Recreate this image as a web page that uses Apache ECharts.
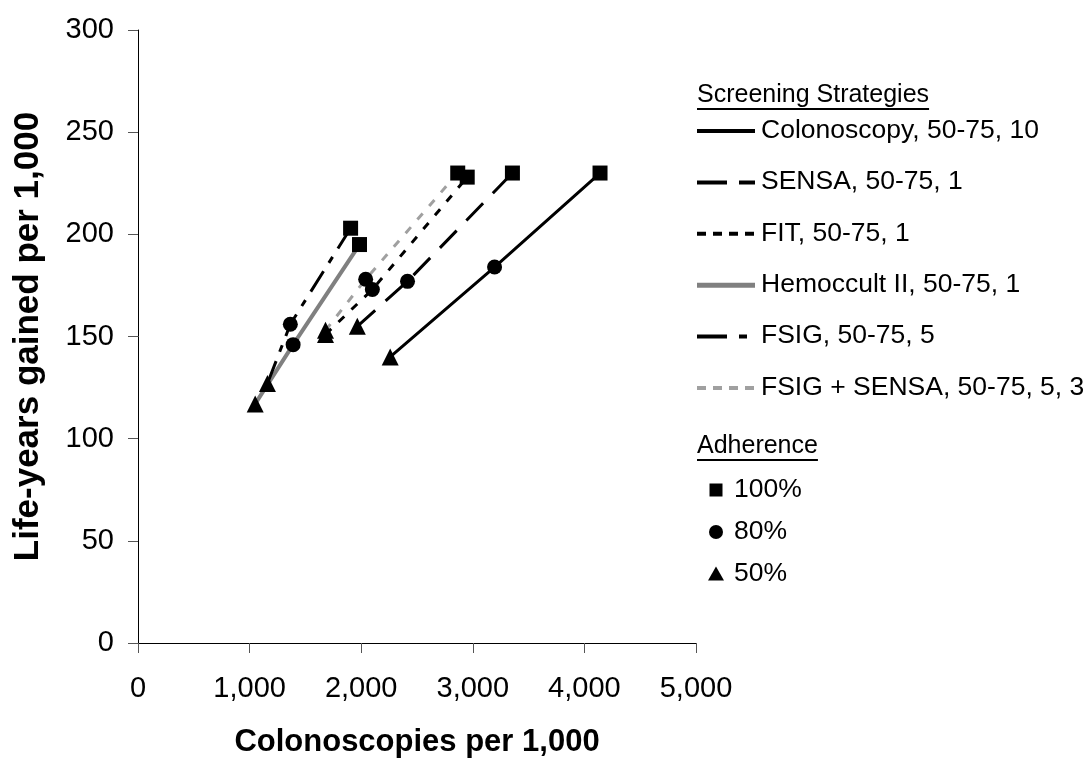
<!DOCTYPE html>
<html>
<head>
<meta charset="utf-8">
<script src="https://cdn.jsdelivr.net/npm/echarts@6/dist/echarts.min.js"></script>
<style>
  html, body { margin: 0; padding: 0; background: #fff; }
  #chart { width: 1086px; height: 759px; }
</style>
</head>
<body>
<div id="chart"></div>
<script>
// Screening strategies and adherence levels (points ordered 50%, 80%, 100%)
const strategies = [
  'Colonoscopy, 50-75, 10',
  'SENSA, 50-75, 1',
  'FIT, 50-75, 1',
  'Hemoccult II, 50-75, 1',
  'FSIG, 50-75, 5',
  'FSIG + SENSA, 50-75, 5, 3'
];
const adherenceLevels = ['50%', '80%', '100%'];

// Colonoscopies per 1,000 for each strategy at 50%, 80%, 100% adherence
const colonoscopyX   = [2260, 3195, 4140];
const sensaX         = [1965, 2415, 3355];
const fitX           = [1680, 2100, 2950];
const hemoccultX     = [1050, 1390, 1985];
const fsigX          = [1160, 1365, 1905];
const fsigSensaX     = [1680, 2040, 2865];

// Life-years gained per 1,000 at 50%, 80%, 100% adherence
const colonoscopyY   = [140, 184, 230];
const sensaY         = [155, 177, 230];
const fitY           = [151, 173, 228];
const hemoccultY     = [117, 146, 195];
const fsigY          = [127, 156, 203];
const fsigSensaY     = [153, 178, 230];

const xTicks = [0, 1000, 2000, 3000, 4000, 5000];
const yTicks = [0, 50, 100, 150, 200, 250, 300];

const FONT = "'Liberation Sans', Arial, sans-serif";

// Line styles per strategy (plot dashes, and the shorter legend sample dashes)
const styles = [
  { color: '#000000', width: 3, dash: 'solid',           legendDash: null },
  { color: '#000000', width: 3, dash: [24, 14],          legendDash: [30, 12] },
  { color: '#000000', width: 3, dash: [8, 10],           legendDash: [9, 7] },
  { color: '#808080', width: 4, dash: 'solid',           legendDash: null },
  { color: '#000000', width: 3, dash: [24, 10, 7, 10],   legendDash: [30, 12, 8, 100] },
  { color: '#a0a0a0', width: 3, dash: [8, 10],           legendDash: [9, 7] }
];
const adherenceSymbols = ['triangle', 'circle', 'rect'];

const xs = [colonoscopyX, sensaX, fitX, hemoccultX, fsigX, fsigSensaX];
const ys = [colonoscopyY, sensaY, fitY, hemoccultY, fsigY, fsigSensaY];

const series = strategies.map((name, i) => ({
  name: name,
  type: 'line',
  data: xs[i].map((x, j) => ({
    value: [x, ys[i][j]],
    symbol: adherenceSymbols[j],
    symbolSize: adherenceSymbols[j] === 'triangle' ? 17 : 15
  })),
  showAllSymbol: true,
  lineStyle: { color: styles[i].color, width: styles[i].width, type: styles[i].dash, cap: 'butt' },
  itemStyle: { color: '#000000', borderWidth: 0 },
  emphasis: { disabled: true },
  animation: false,
  z: 2
}));

// Legend drawn as graphic elements
const measure = (() => {
  const c = document.createElement('canvas').getContext('2d');
  return (text, size) => { c.font = size + 'px ' + FONT; return c.measureText(text).width; };
})();

const LEG_X = 697, LEG_TEXT_X = 761, ENTRY_FONT = 26.5, HEAD_FONT = 25;
const graphics = [];
function underlinedTitle(text, x, y) {
  const w = measure(text, HEAD_FONT);
  graphics.push({ type: 'text', left: x, top: y - 14, style: { text: text, font: HEAD_FONT + 'px ' + FONT, fill: '#000' } });
  graphics.push({ type: 'line', shape: { x1: x, y1: y + 12, x2: x + w, y2: y + 12 }, style: { stroke: '#000', lineWidth: 2 } });
}
underlinedTitle('Screening Strategies', LEG_X, 97);
strategies.forEach((name, i) => {
  const y = 131 + i * 51.4;
  graphics.push({
    type: 'line',
    shape: { x1: LEG_X, y1: y, x2: 755, y2: y },
    style: { stroke: styles[i].color, lineWidth: styles[i].width + 1, lineDash: styles[i].legendDash }
  });
  graphics.push({ type: 'text', left: LEG_TEXT_X, top: y - 14, style: { text: name, font: ENTRY_FONT + 'px ' + FONT, fill: '#000' } });
});
underlinedTitle('Adherence', LEG_X, 448);
const adhRows = [adherenceLevels[2], adherenceLevels[1], adherenceLevels[0]];
adhRows.forEach((label, k) => {
  const y = 490 + k * 42;
  const cx = 716;
  if (k === 0) graphics.push({ type: 'rect', shape: { x: cx - 6.5, y: y - 6.5, width: 13, height: 13 }, style: { fill: '#000' } });
  if (k === 1) graphics.push({ type: 'circle', shape: { cx: cx, cy: y, r: 7 }, style: { fill: '#000' } });
  if (k === 2) graphics.push({ type: 'polygon', shape: { points: [[cx, y - 7.5], [cx + 8, y + 6.5], [cx - 8, y + 6.5]] }, style: { fill: '#000' } });
  graphics.push({ type: 'text', left: 734, top: y - 14, style: { text: label, font: ENTRY_FONT + 'px ' + FONT, fill: '#000' } });
});

const chart = echarts.init(document.getElementById('chart'), null, { renderer: 'canvas' });
chart.setOption({
  backgroundColor: '#ffffff',
  animation: false,
  textStyle: { fontFamily: FONT },
  grid: { left: 138, right: 390, top: 30, bottom: 116, containLabel: false, outerBoundsMode: 'none' },
  xAxis: {
    type: 'value',
    min: xTicks[0], max: xTicks[xTicks.length - 1], interval: 1000,
    name: 'Colonoscopies per 1,000',
    nameLocation: 'middle', nameGap: 84,
    nameTextStyle: { fontSize: 31, fontWeight: 'bold', color: '#000', fontFamily: FONT },
    axisLine: { show: true, onZero: false, lineStyle: { color: '#000', width: 1 } },
    axisTick: { show: true, inside: false, length: 10, lineStyle: { color: '#555' } },
    axisLabel: { fontSize: 29, color: '#000', margin: 31, fontFamily: FONT,
      formatter: v => v.toLocaleString('en-US') },
    splitLine: { show: false }
  },
  yAxis: {
    type: 'value',
    min: yTicks[0], max: yTicks[yTicks.length - 1], interval: 50,
    name: 'Life-years gained per 1,000',
    nameLocation: 'middle', nameGap: 92, nameRotate: 90,
    nameTextStyle: { fontSize: 35, fontWeight: 'bold', color: '#000', fontFamily: FONT },
    axisLine: { show: true, onZero: false, lineStyle: { color: '#000', width: 1 } },
    axisTick: { show: true, inside: false, length: 10, lineStyle: { color: '#555' } },
    axisLabel: { fontSize: 29, color: '#000', margin: 24, fontFamily: FONT },
    splitLine: { show: false }
  },
  legend: { show: false },
  tooltip: { show: false },
  series: series,
  graphic: graphics
});
</script>
</body>
</html>
